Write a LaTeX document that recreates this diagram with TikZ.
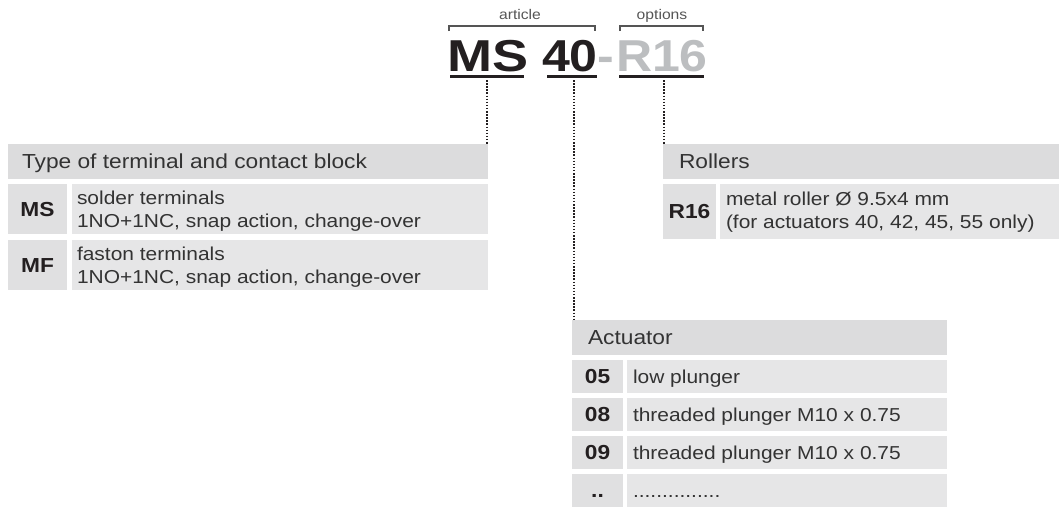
\documentclass[tikz,border=0pt]{standalone}
\usepackage{fontspec}
\setmainfont{Liberation Sans}[FakeStretch=1.12]
\usetikzlibrary{calc}
\definecolor{hdrc}{HTML}{DCDCDD}
\definecolor{rowc}{HTML}{E6E6E7}
\definecolor{codebgc}{HTML}{E0E0E1}
\definecolor{txtc}{HTML}{333333}
\definecolor{darkc}{HTML}{231F20}
\definecolor{lightc}{HTML}{BCBEC0}
\definecolor{smallc}{HTML}{555555}
\begin{document}
\begin{tikzpicture}[x=1pt,y=-1pt,
  bg/.style={inner sep=0pt, outer sep=0pt, anchor=north west, draw=none},
  hdrbg/.style={bg, fill=hdrc},
  rowbg/.style={bg, fill=rowc},
  codebg/.style={bg, fill=codebgc},
  txt/.style={inner sep=0pt, outer sep=0pt, text=txtc, anchor=base west, align=left, font=\fontsize{18.7}{23}\selectfont},
  hdrtxt/.style={inner sep=0pt, outer sep=0pt, text=txtc, anchor=base west, font=\fontsize{20.3}{23}\selectfont},
  codetxt/.style={inner sep=0pt, outer sep=0pt, text=darkc, anchor=base, font=\fontsize{20.3}{23}\selectfont\bfseries},
  bigtxt/.style={inner sep=0pt, outer sep=0pt, anchor=base west, font=\fontsize{44.7}{46}\selectfont\bfseries},
  smalltxt/.style={inner sep=0pt, outer sep=0pt, anchor=base, text=smallc, font=\fontsize{14}{15}\selectfont},
  bracket/.style={draw=smallc, line width=1.2pt},
  uline/.style={draw=#1, line width=3pt},
  dotline/.style={draw=darkc, line width=2.4pt, dash pattern=on 1.5pt off 1.6pt}
]
\useasboundingbox (0,0) rectangle (1059,507);

% ---- code line ----
\node[smalltxt] (article) at (520,19) {article};
\node[smalltxt] (options) at (662,19) {options};
\draw[bracket] (449,31) -- (449,26) -- (595,26) -- (595,31);
\draw[bracket] (620,31) -- (620,26) -- (703,26) -- (703,31);

\node[bigtxt, text=darkc] (bigms) at (447,71) {\scalebox{1.08}[1]{MS}};
\node[bigtxt, text=darkc] (big40) at (542,71) {40};
\node[bigtxt, text=lightc] (bigdash) at (597,71) {-};
\node[bigtxt, text=lightc] (bigr) at (616,71) {R16};
\draw[uline=darkc] (450,76.5) -- (524,76.5);
\draw[uline=darkc] (547,76.5) -- (597,76.5);
\draw[uline=darkc] (619,76.5) -- (704,76.5);

% ---- left table ----
\node[hdrbg, minimum width=480, minimum height=35] (typehead) at (8,144) {};
\node[hdrtxt] (typeheadtxt) at ($(typehead.west)+(14,7)$) {Type of terminal and contact block};
\node[codebg, minimum width=59, minimum height=50] (mscode) at (8,184) {};
\node[rowbg, minimum width=416, minimum height=50] (msdesc) at (72,184) {};
\node[codetxt] (mscodetxt) at ($(mscode.center)+(0,7)$) {MS};
\node[txt] (msdesctxt) at ($(msdesc.west)+(5,18)$) {solder terminals\\1NO+1NC, snap action, change-over};
\node[codebg, minimum width=59, minimum height=50] (mfcode) at (8,240) {};
\node[rowbg, minimum width=416, minimum height=50] (mfdesc) at (72,240) {};
\node[codetxt] (mfcodetxt) at ($(mfcode.center)+(0,7)$) {MF};
\node[txt] (mfdesctxt) at ($(mfdesc.west)+(5,18)$) {faston terminals\\1NO+1NC, snap action, change-over};

% ---- rollers table ----
\node[hdrbg, minimum width=396, minimum height=35] (rollhead) at (663,144) {};
\node[hdrtxt] (rollheadtxt) at ($(rollhead.west)+(16,7)$) {Rollers};
\node[codebg, minimum width=53, minimum height=55] (rcode) at (663,184) {};
\node[rowbg, minimum width=339, minimum height=55] (rdesc) at (720,184) {};
\node[codetxt] (rcodetxt) at ($(rcode.center)+(0,7)$) {R16};
\node[txt] (rdesctxt) at ($(rdesc.west)+(6,16.5)$) {metal roller Ø 9.5x4 mm\\(for actuators 40, 42, 45, 55 only)};

% ---- actuator table ----
\node[hdrbg, minimum width=375, minimum height=35] (acthead) at (572,320) {};
\node[hdrtxt] (actheadtxt) at ($(acthead.west)+(16,7)$) {Actuator};
\foreach \y/\c/\d [count=\i] in {360/05/low plunger, 398/08/threaded plunger M10 x 0.75, 436/09/threaded plunger M10 x 0.75} {
  \node[codebg, minimum width=51, minimum height=33] (acode\i) at (572,\y) {};
  \node[rowbg, minimum width=320, minimum height=33] (adesc\i) at (627,\y) {};
  \node[codetxt] (acodetxt\i) at ($(acode\i.center)+(0,7)$) {\c};
  \node[txt] (adesctxt\i) at ($(adesc\i.west)+(6,7)$) {\d};
}
\node[codebg, minimum width=51, minimum height=33] (acode4) at (572,474) {};
\node[rowbg, minimum width=320, minimum height=33] (adesc4) at (627,474) {};
\node[codetxt] (acodetxt4) at ($(acode4.center)+(0,7)$) {..};
\node[txt] (adesctxt4) at ($(adesc4.west)+(6,7)$) {...............};

% ---- connectors ----
\coordinate (msu) at (487,80);
\coordinate (u40) at (574,80);
\coordinate (ur) at (664,80);
\draw[dotline] (msu) -- (msu |- typehead.north);
\draw[dotline] (u40) -- (u40 |- acthead.north);
\draw[dotline] (ur) -- (ur |- rollhead.north);
\end{tikzpicture}
\end{document}
